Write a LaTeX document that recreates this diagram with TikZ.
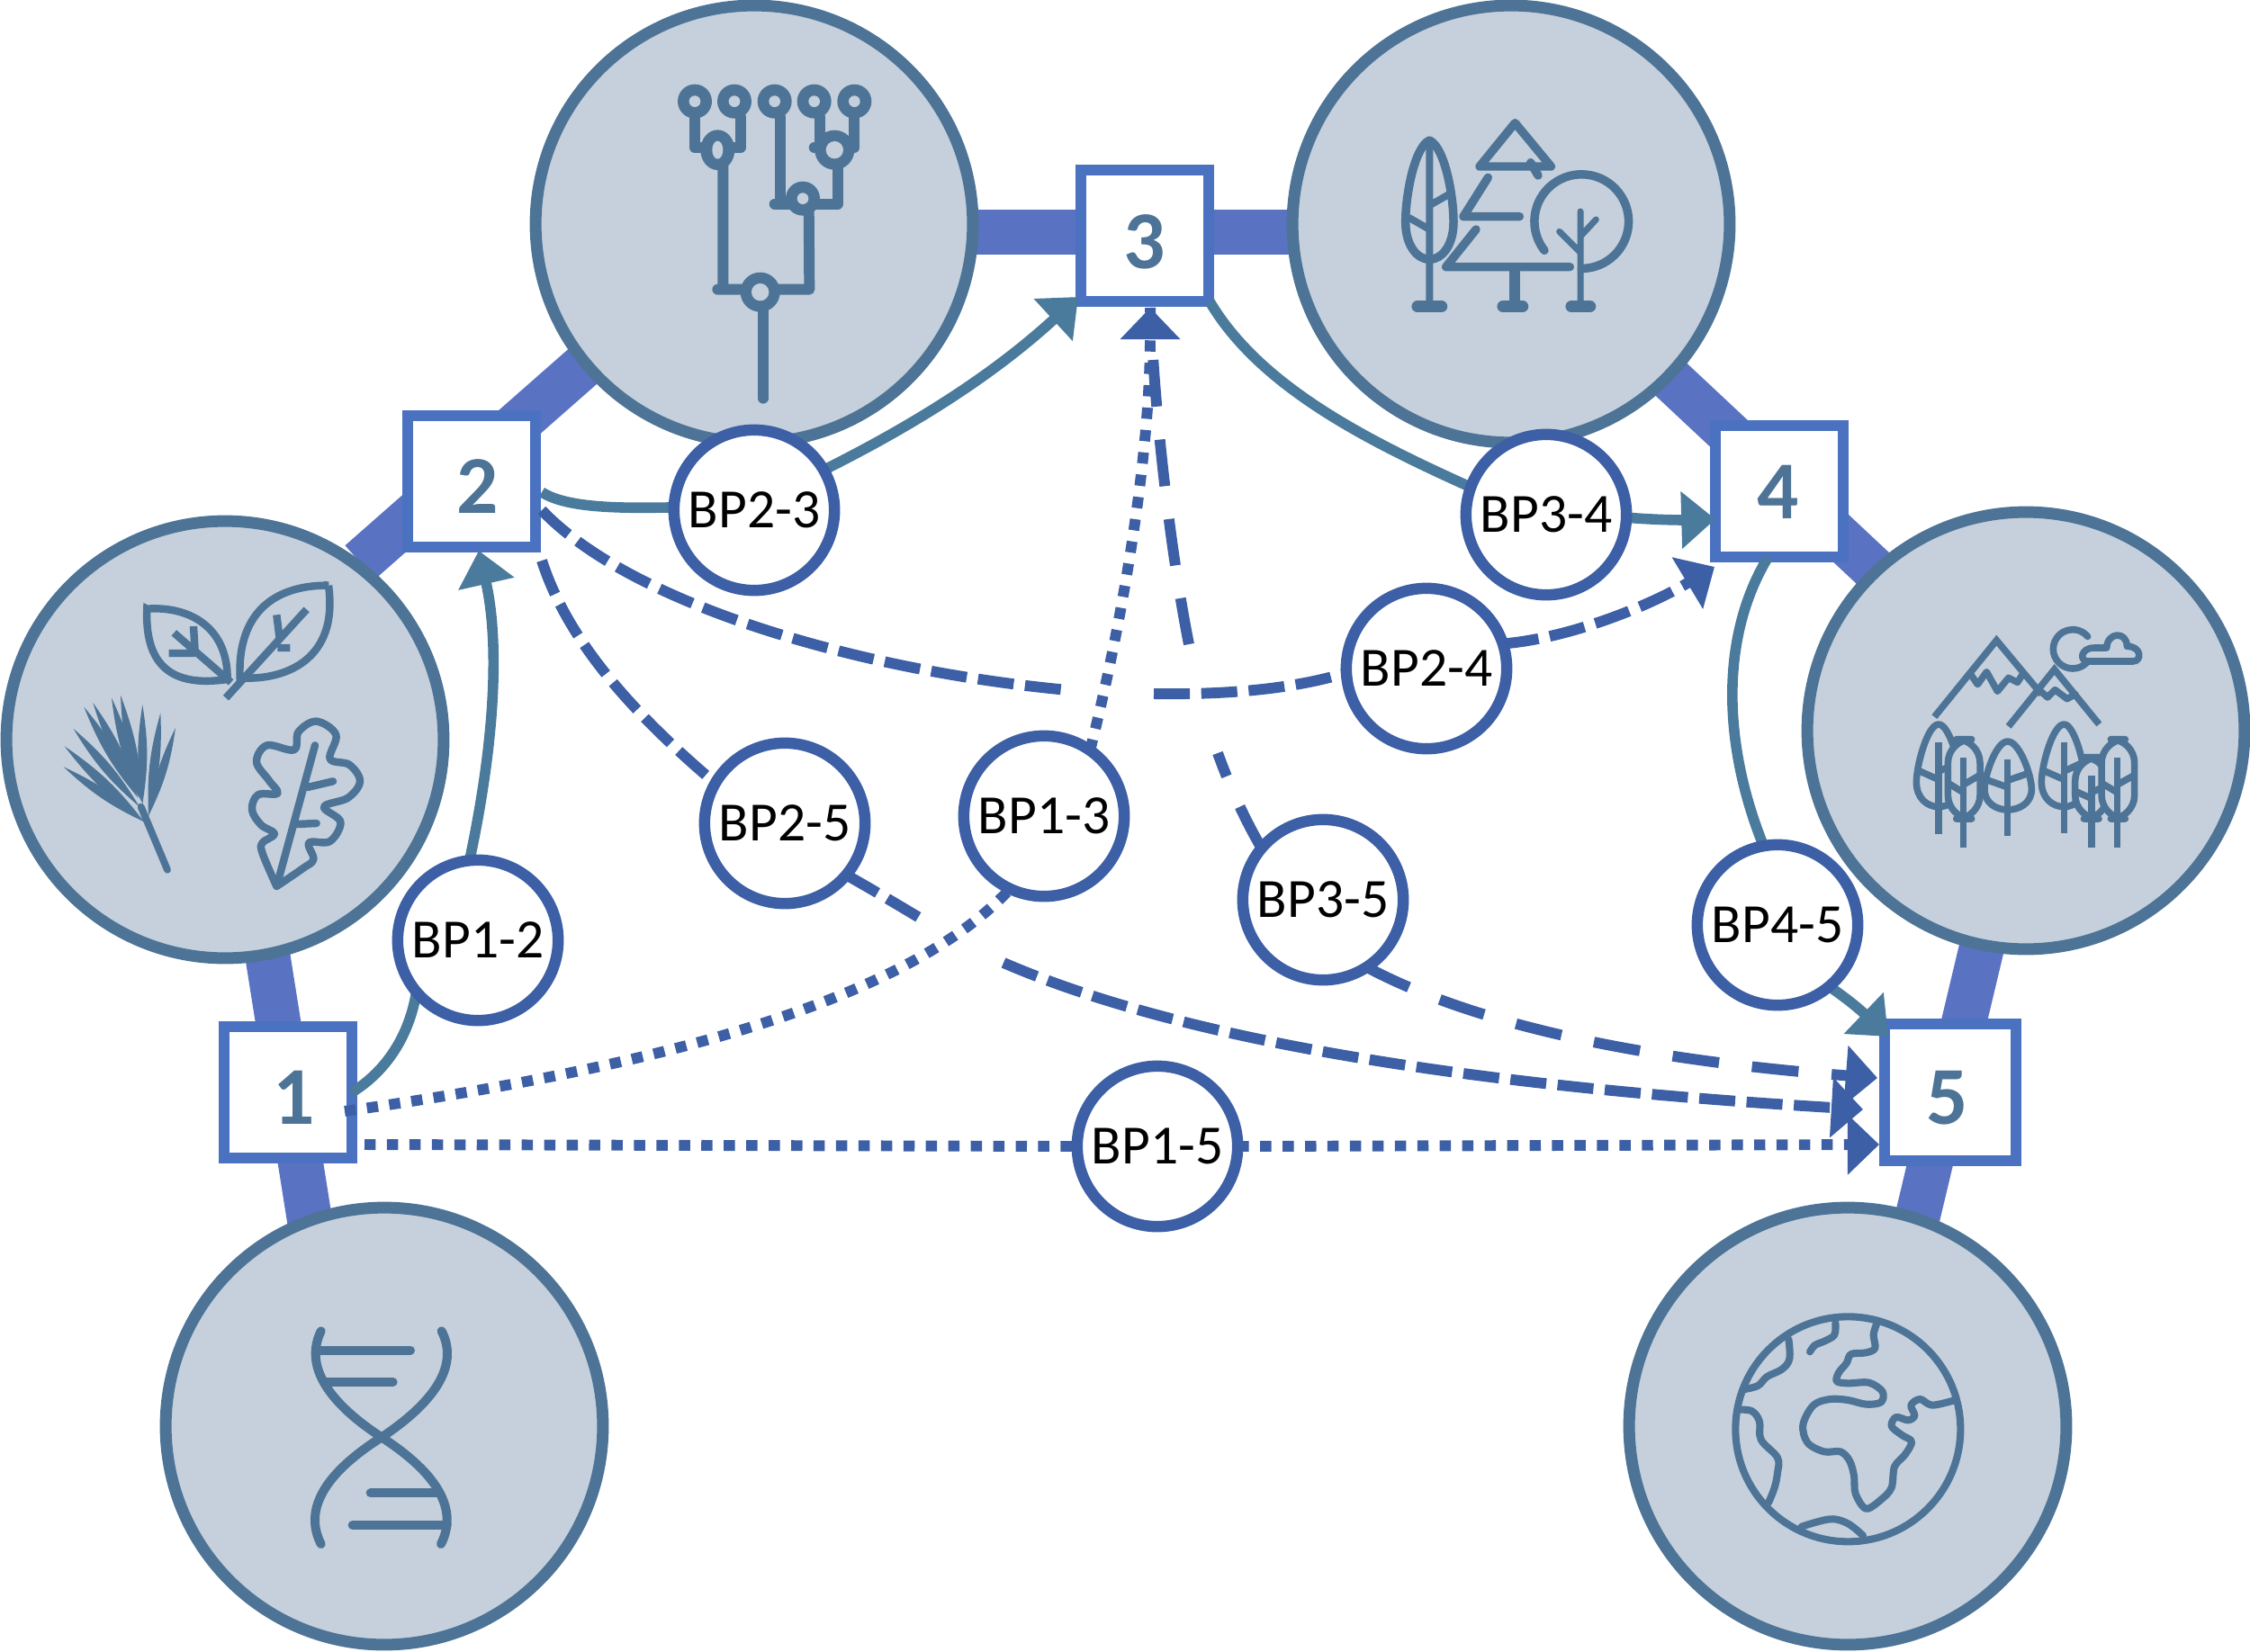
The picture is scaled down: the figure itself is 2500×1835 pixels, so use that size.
\documentclass[tikz,border=0pt]{standalone}
\usepackage{fontspec}
\setmainfont{Carlito}
\usetikzlibrary{arrows.meta}
\pgfdeclarelayer{bars}\pgfdeclarelayer{conn}\pgfdeclarelayer{top}
\pgfsetlayers{bars,main,conn,top}
\definecolor{ring}{HTML}{4D7496}
\definecolor{disc}{HTML}{C5D0DC}
\definecolor{barblue}{HTML}{5A72C2}
\definecolor{sqblue}{HTML}{4A72C0}
\definecolor{bpblue}{HTML}{3C5FA5}
\definecolor{teal}{HTML}{4A7A9C}
\tikzset{
  discnode/.style={circle,draw=ring,fill=disc,line width=7.4pt,minimum size=276.5pt,inner sep=0pt,outer sep=0pt},
  sqnode/.style={rectangle,draw=sqblue,fill=white,line width=7.1pt,minimum width=80.8pt,minimum height=83pt,inner sep=0pt,outer sep=0pt,text=ring,font=\fontsize{52}{52}\selectfont\bfseries},
  bpnode/.style={circle,draw=bpblue,fill=white,line width=7.1pt,minimum size=101.5pt,inner sep=0pt,outer sep=0pt,font=\fontsize{35}{35}\selectfont},
  thickbar/.style={barblue,line width=28.5pt},
  solidc/.style={teal,line width=6.6pt,-{Triangle[length=21.5pt,width=35pt]}},
  solidn/.style={teal,line width=6.6pt},
  dotc/.style={bpblue,line width=6.8pt,dash pattern=on 7.1pt off 7.1pt},
  dashc/.style={bpblue,line width=6.8pt,dash pattern=on 22.8pt off 7.2pt},
  longc/.style={bpblue,line width=6.8pt,dash pattern=on 29.6pt off 21pt},
  tipped/.style={-{Triangle[length=20pt,width=37pt]}},
  ico/.style={ring,line width=#1,line cap=round,line join=round},
  ico/.default=6pt,
}
\newcommand{\sqnum}[3]{\raisebox{\dimexpr -16.5pt-#2\relax}[0pt][0pt]{\makebox[0pt]{\hspace*{\dimexpr 2\dimexpr #1\relax\relax}#3}}}
\newcommand{\ringmark}[5]{\fill[ring] (#1,#2) circle [radius=#3]; \fill[disc] (#1,#2) ellipse [x radius=#4,y radius=#5];}
\newcommand{\treeinner}[5]{% x, top, bottom, left, right ... trunk and branches
  \draw[ico=4.3pt,line cap=butt] (#4,{#2+(#3-#2)*0.55}) -- (#1,{#2+(#3-#2)*0.67});
  \draw[ico=4.3pt,line cap=butt] (#5,{#2+(#3-#2)*0.45}) -- (#1,{#2+(#3-#2)*0.57});
}
\newcommand{\droptree}[6]{% x, top, bottom, left, right, trunk end
  \draw[ico=4.3pt,fill=disc] (#1,#2) .. controls ({#1-(#1-#4)*0.5},#2) and (#4,{#3-(#3-#2)*0.5}) .. (#4,{#3-(#3-#2)*0.3})
    .. controls (#4,{#3-(#3-#2)*0.1}) and ({#1-(#1-#4)*0.5},#3) .. (#1,#3)
    .. controls ({#1+(#5-#1)*0.5},#3) and (#5,{#3-(#3-#2)*0.1}) .. (#5,{#3-(#3-#2)*0.3})
    .. controls (#5,{#3-(#3-#2)*0.5}) and ({#1+(#5-#1)*0.5},#2) .. cycle;
  \draw[ico=4.3pt,line cap=butt] (#1,{#2+60}) -- (#1,#6);
  \treeinner{#1}{#2}{#3}{#4}{#5}
}
\newcommand{\boxtree}[6]{%
  \draw[ico=4.3pt,fill=disc,rounded corners=15pt] (#4,#2) rectangle (#5,#3);
  \draw[ico=4.3pt,line cap=butt] (#1,{#2+60}) -- (#1,#6);
  \treeinner{#1}{#2}{#3}{#4}{#5}
}
\begin{document}
\begin{tikzpicture}[x=0.02cm,y=-0.02cm]
\useasboundingbox (0,0) rectangle (2500,1835);
% thick bars
\begin{pgfonlayer}{bars}
\coordinate (b1a) at (297,1060); \coordinate (b1b) at (345,1362);
\coordinate (b2a) at (400,625);  \coordinate (b2b) at (650,405);
\coordinate (b3a) at (1085,258); \coordinate (b3b) at (1440,258);
\coordinate (b4a) at (1855,420); \coordinate (b4b) at (2090,640);
\coordinate (b5a) at (2205,1040);\coordinate (b5b) at (2128,1363);
\draw[thickbar] (b1a) -- (b1b);
\draw[thickbar] (b2a) -- (b2b);
\draw[thickbar] (b3a) -- (b3b);
\draw[thickbar] (b4a) -- (b4b);
\draw[thickbar] (b5a) -- (b5b);
\end{pgfonlayer}
% large discs
\node[discnode] (plants) at (250,822) {};
\node[discnode] (phylo) at (838,249) {};
\node[discnode] (forest) at (1679,249) {};
\node[discnode] (mount) at (2251,812) {};
\node[discnode] (dna) at (427,1585) {};
\node[discnode] (globe) at (2053,1585) {};
% squares
\node[sqnode] (s1) at (320,1214) {\sqnum{3.6pt}{3.6pt}{1}};
\node[sqnode] (s2) at (524,535) {\sqnum{4pt}{3.6pt}{2}};
\node[sqnode] (s3) at (1272,262) {\sqnum{0pt}{4.5pt}{3}};
\node[sqnode] (s4) at (1977,546) {\sqnum{-1pt}{1pt}{4}};
\node[sqnode,minimum width=83pt,minimum height=86.5pt] (s5) at (2167,1214) {\sqnum{-2pt}{3.6pt}{5}};
% plants icon
\begin{scope}[shift={(50,620)},scale=0.33333]
\draw[ico=4.8pt,line cap=butt,line join=miter] (340,170) .. controls (480,160) and (610,230) .. (608,405) .. controls (470,425) and (330,400) .. cycle;
\draw[ico=4.8pt,line cap=butt] (430,250) -- (620,415) (495,228) -- (500,310) (413,318) -- (500,318);
\draw[ico=4.8pt,line cap=butt,line join=miter] (945,92) .. controls (780,90) and (640,170) .. (650,400) .. controls (800,410) and (980,340) .. cycle;
\draw[ico=4.8pt,line cap=butt] (603,467) -- (872,172) (772,190) -- (782,270) (775,300) -- (817,300);
\draw[ico=4.8pt] (775,1085) -- (900,625) (875,765) -- (960,745) (840,888) -- (905,885);
\draw[ico=4.8pt] plot[smooth,tension=0.6] coordinates {(772,1095) (725,985) (725,950) (765,920) (720,890) (690,840) (710,790) (775,785) (745,740) (705,680) (740,625) (830,640) (845,580) (905,545) (970,590) (950,670) (1015,690) (1050,745) (1010,800) (930,830) (985,880) (950,945) (880,950) (895,1005) (860,1035) (772,1095)};
\draw[ico=4.5pt] (408,1040) -- (320,830);
\foreach \tx/\ty/\bx/\by in {62/697/335/882,65/628/330/880,95/570/315/830,130/497/310/800,160/483/315/800,222/467/320/810,252/458/325/820,325/490/325/820,385/517/345/860,435/567/345/860}
  {\fill[ring] (\bx,\by) to[bend left=9] (\tx,\ty) to[bend left=9] (\bx,\by);}
\end{scope}
% phylogeny icon
\begin{scope}[shift={(700,50)},scale=0.33333]
\draw[ico=6.8pt] (216,240) -- (216,342) -- (369,342) -- (369,240);
\draw[ico=6.8pt] (310,400) -- (310,815) (292,815) -- (598,815) -- (596,530);
\draw[ico=6.8pt] (444,880) -- (444,1178);
\draw[ico=6.8pt] (500,240) -- (500,530) (482,530) -- (692,530) -- (692,400);
\draw[ico=6.8pt] (634,240) -- (634,342) (614,342) -- (748,342) -- (748,240);
\foreach \xx in {216,348,482,614,748} {\ringmark{\xx}{188}{57}{19}{19}}
\fill[ring] (292,350) ellipse [x radius=57,y radius=67]; \fill[disc] (292,350) ellipse [x radius=18,y radius=30];
\ringmark{682}{350}{66}{29}{29}
\ringmark{576}{512}{57}{19}{19}
\ringmark{434}{824}{66}{29}{29}
\end{scope}
% forest icon
\begin{scope}[shift={(1500,100)},scale=0.33333]
\draw[ico=5.4pt] (265,168) .. controls (215,190) and (185,350) .. (185,440) .. controls (185,520) and (225,565) .. (265,565) .. controls (305,565) and (345,520) .. (345,440) .. controls (345,350) and (315,190) .. cycle;
\draw[ico=4.5pt,line cap=butt] (265,180) -- (265,720) (195,425) -- (265,465) (265,385) -- (335,345);
\draw[ico=7.5pt] (225,722) -- (305,722) (510,722) -- (575,722) (738,722) -- (800,722);
\draw[ico=5.4pt] (550,110) -- (432,255) -- (670,255) -- cycle;
\draw[ico=5.4pt] (602,242) -- (627,285);
\draw[ico=5.4pt] (460,292) -- (378,422) -- (565,422);
\draw[ico=5.4pt] (420,465) -- (320,590) -- (733,590);
\draw[ico=6.8pt,line cap=butt] (550,590) -- (550,720);
\draw[ico=5.4pt] (648,535) arc[start angle=142,end angle=450,radius=157];
\draw[ico=4pt] (768,405) -- (768,720) (820,432) -- (768,488) (698,472) -- (768,542);
\end{scope}
% mountain icon
\begin{scope}[shift={(2100,670)},scale=0.33333]
\draw[ico=4.3pt,line cap=butt,line join=miter] (148,380) -- (355,125) -- (505,305);
\draw[ico=4.3pt,line cap=butt,line join=miter] (395,412) -- (548,222) -- (697,405);
\draw[ico=4.3pt] (270,240) -- (292,272) -- (322,230) -- (358,295) -- (395,250) -- (425,265) -- (442,238);
\draw[ico=4.3pt] (497,290) -- (525,315) -- (550,290) -- (590,320) -- (618,305);
\draw[ico=4.3pt] (655,200) arc[start angle=45,end angle=320,radius=65];
\draw[ico=4.3pt] (660,195) -- (810,195) .. controls (840,195) and (840,145) .. (790,145) .. controls (790,95) and (725,95) .. (722,150) -- (680,150) .. controls (635,150) and (630,195) .. cycle;
\droptree{162}{405}{680}{88}{235}{770}
\boxtree{245}{455}{720}{193}{300}{815}
\droptree{392}{462}{690}{315}{472}{778}
\droptree{580}{405}{680}{505}{650}{768}
\boxtree{672}{515}{720}{617}{725}{815}
\boxtree{758}{455}{720}{705}{815}{815}
\end{scope}
% dna icon
\begin{scope}[shift={(300,1440)},scale=0.33333]
\draw[ico=5.7pt] (170,118) .. controls (120,220) and (170,340) .. (372,472) .. controls (570,600) and (625,720) .. (570,828);
\draw[ico=5.7pt] (572,118) .. controls (625,220) and (570,340) .. (372,472) .. controls (170,600) and (115,720) .. (170,828);
\draw[ico=5.7pt] (165,182) -- (468,182) (185,288) -- (410,288) (335,658) -- (560,658) (275,765) -- (590,765);
\end{scope}
% globe icon
\begin{scope}[shift={(1900,1440)},scale=0.33333]
\draw[ico=4.6pt] (460,445) circle [radius=375];
\draw[ico=4.6pt] plot[smooth,tension=0.6] coordinates {(418,90) (415,130) (385,150) (350,165) (333,187)};
\draw[ico=4.6pt] plot[smooth,tension=0.6] coordinates {(262,145) (265,210) (240,245) (190,270) (160,300) (115,312)};
\draw[ico=4.6pt] plot[smooth,tension=0.55] coordinates {(555,95) (545,130) (550,175) (520,190) (470,195) (455,225) (430,255) (422,285) (460,292) (530,290) (575,320) (570,355) (520,362) (460,348) (400,345) (345,365) (310,430) (325,490) (380,520) (435,520) (465,550) (480,600) (485,660) (520,710) (570,680) (605,640) (615,570) (650,530) (672,487) (640,465) (605,435) (620,405) (660,415) (682,400) (670,365) (700,345) (740,365) (810,350)};
\draw[ico=4.6pt] plot[smooth,tension=0.6] coordinates {(95,380) (140,385) (165,420) (170,480) (225,540) (225,590) (215,640) (195,690)};
\draw[ico=4.6pt] plot[smooth,tension=0.6] coordinates {(305,770) (400,745) (460,760) (510,800)};
\end{scope}
% BP nodes
\begin{pgfonlayer}{top}
\node[bpnode] (bp12) at (531,1045) {BP1-2};
\node[bpnode] (bp23) at (838,567) {BP2-3};
\node[bpnode] (bp34) at (1718,572) {BP3-4};
\node[bpnode] (bp24) at (1585,743) {BP2-4};
\node[bpnode] (bp25) at (872,915) {BP2-5};
\node[bpnode] (bp13) at (1160,907) {BP1-3};
\node[bpnode] (bp35) at (1470,1000) {BP3-5};
\node[bpnode] (bp45) at (1975,1028) {BP4-5};
\node[bpnode] (bp15) at (1286,1274) {BP1-5};
\end{pgfonlayer}
% connector ends
\coordinate (t12) at (532,612);
\coordinate (t23) at (1198,330);
\coordinate (t34) at (1906,577);
\coordinate (t24) at (1905,630);
\coordinate (t25) at (2070,1233);
\coordinate (t13) at (1278,342);
\coordinate (t35) at (2086,1198);
\coordinate (t15) at (2088,1272);
\coordinate (t45) at (2098,1152);
\coordinate (o13) at (383,1235);
\coordinate (o15) at (405,1272);
\coordinate (o23) at (602,547);
\coordinate (o24) at (602,567);
\coordinate (o25) at (602,623);
\coordinate (o34) at (1344,335);
\coordinate (o45) at (1964,620);
\coordinate (g24a) at (1187,767);
\coordinate (g24b) at (1282,771);
\coordinate (g35a) at (1353,837);
\coordinate (g35b) at (1321,716);
\coordinate (g25a) at (1030,1025);
\coordinate (g25b) at (1115,1070);
\begin{pgfonlayer}{conn}
\draw[solidn] (s1.east) .. controls (430,1190) and (455,1150) .. (bp12.220);
\draw[solidc] (bp12.96) .. controls (555,800) and (552,700) .. (t12);
\draw[solidn] (o23) .. controls (630,565) and (690,565) .. (bp23.178);
\draw[solidc] (bp23.30) .. controls (1010,475) and (1100,420) .. (t23);
\draw[solidn] (o34) .. controls (1400,430) and (1520,490) .. (bp34.160);
\draw[solidc] (bp34.-2) .. controls (1840,578) and (1870,578) .. (t34);
\draw[solidn] (o45) .. controls (1910,710) and (1915,830) .. (bp45.100);
\draw[solidc] (bp45.-50) .. controls (2060,1115) and (2075,1130) .. (t45);
\draw[dashc] (o24) .. controls (700,670) and (950,745) .. (g24a);
\draw[dashc] (g24b) .. controls (1350,772) and (1430,768) .. (bp24.183);
\draw[dashc,tipped] (bp24.18) .. controls (1740,710) and (1830,675) .. (t24);
\draw[dashc] (o25) .. controls (630,710) and (700,790) .. (bp25.150);
\draw[dashc] (bp25.-40) .. controls (975,992) and (1005,1010) .. (g25a);
\draw[dashc,tipped] (g25b) .. controls (1300,1150) and (1600,1205) .. (t25);
\draw[dotc] (o13) .. controls (700,1190) and (1000,1120) .. (bp13.-115);
\draw[dotc,tipped] (bp13.55) .. controls (1250,680) and (1278,500) .. (t13);
\draw[longc] (bp35.140) .. controls (1380,905) and (1365,870) .. (g35a);
\draw[longc] (g35b) .. controls (1300,610) and (1283,460) .. (t13);
\draw[longc,tipped] (bp35.-57) .. controls (1650,1145) and (1850,1180) .. (t35);
\draw[dotc] (o15) -- (bp15.west);
\draw[dotc,tipped] (bp15.east) -- (t15);
\end{pgfonlayer}
\end{tikzpicture}
\end{document}
